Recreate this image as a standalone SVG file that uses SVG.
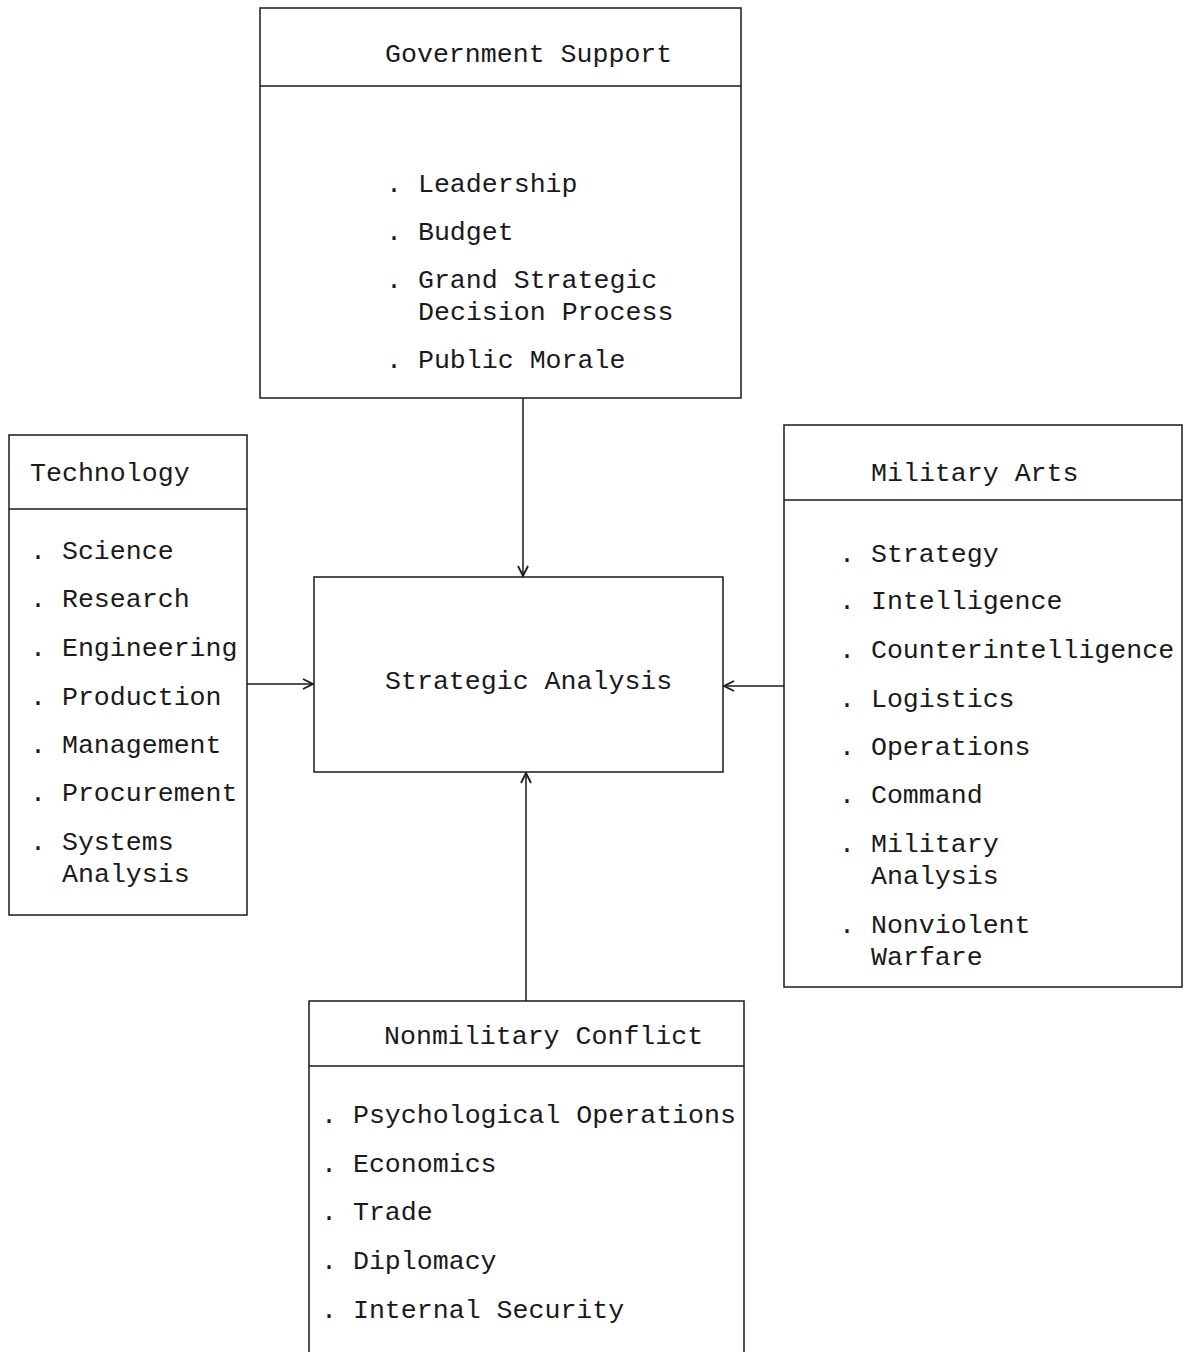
<svg xmlns="http://www.w3.org/2000/svg" width="1185" height="1352" viewBox="0 0 1185 1352">
<style>
.box{fill:none;stroke:#1a1a1a;stroke-width:1.5}
.t{font-family:"Liberation Mono","Courier New",monospace;font-size:26.6px;fill:#1a1a1a}
.c{fill:none;stroke:#1a1a1a;stroke-width:1.5}
</style>
<defs>
<marker id="ah" viewBox="0 0 12 12" refX="11" refY="6" markerWidth="12" markerHeight="12" markerUnits="userSpaceOnUse" orient="auto">
<path d="M1,1 L11,6 L1,11" fill="none" stroke="#1a1a1a" stroke-width="1.8"/>
</marker>
</defs>
<rect width="1185" height="1352" fill="#ffffff"/>
<g id="government-support">
<rect class="box" x="260" y="8" width="481" height="390"/>
<line class="box" x1="260" y1="86" x2="741" y2="86"/>
<text class="t" x="385" y="62">Government Support</text>
<text class="t" x="386" y="192">. Leadership</text>
<text class="t" x="386" y="240">. Budget</text>
<text class="t" x="386" y="288">. Grand Strategic</text>
<text class="t" x="418" y="320">Decision Process</text>
<text class="t" x="386" y="368">. Public Morale</text>
</g>
<g id="technology">
<rect class="box" x="9" y="435" width="238" height="480"/>
<line class="box" x1="9" y1="509" x2="247" y2="509"/>
<text class="t" x="30" y="481">Technology</text>
<text class="t" x="30" y="559">. Science</text>
<text class="t" x="30" y="607">. Research</text>
<text class="t" x="30" y="656">. Engineering</text>
<text class="t" x="30" y="705">. Production</text>
<text class="t" x="30" y="753">. Management</text>
<text class="t" x="30" y="801">. Procurement</text>
<text class="t" x="30" y="850">. Systems</text>
<text class="t" x="62" y="882">Analysis</text>
</g>
<g id="military-arts">
<rect class="box" x="784" y="425" width="398" height="562"/>
<line class="box" x1="784" y1="500" x2="1182" y2="500"/>
<text class="t" x="871" y="481">Military Arts</text>
<text class="t" x="839" y="562">. Strategy</text>
<text class="t" x="839" y="609">. Intelligence</text>
<text class="t" x="839" y="658">. Counterintelligence</text>
<text class="t" x="839" y="707">. Logistics</text>
<text class="t" x="839" y="755">. Operations</text>
<text class="t" x="839" y="803">. Command</text>
<text class="t" x="839" y="852">. Military</text>
<text class="t" x="871" y="884">Analysis</text>
<text class="t" x="839" y="933">. Nonviolent</text>
<text class="t" x="871" y="965">Warfare</text>
</g>
<g id="strategic-analysis">
<rect class="box" x="314" y="577" width="409" height="195"/>
<text class="t" x="385" y="689">Strategic Analysis</text>
</g>
<g id="nonmilitary-conflict">
<rect class="box" x="309" y="1001" width="435" height="360"/>
<line class="box" x1="309" y1="1066" x2="744" y2="1066"/>
<text class="t" x="384" y="1044">Nonmilitary Conflict</text>
<text class="t" x="321" y="1123">. Psychological Operations</text>
<text class="t" x="321" y="1172">. Economics</text>
<text class="t" x="321" y="1220">. Trade</text>
<text class="t" x="321" y="1269">. Diplomacy</text>
<text class="t" x="321" y="1318">. Internal Security</text>
</g>
<g id="connectors">
<line class="c" x1="523" y1="398" x2="523" y2="576" marker-end="url(#ah)"/>
<line class="c" x1="247" y1="684" x2="313" y2="684" marker-end="url(#ah)"/>
<line class="c" x1="784" y1="686" x2="724" y2="686" marker-end="url(#ah)"/>
<line class="c" x1="526" y1="1001" x2="526" y2="773" marker-end="url(#ah)"/>
</g>
</svg>
